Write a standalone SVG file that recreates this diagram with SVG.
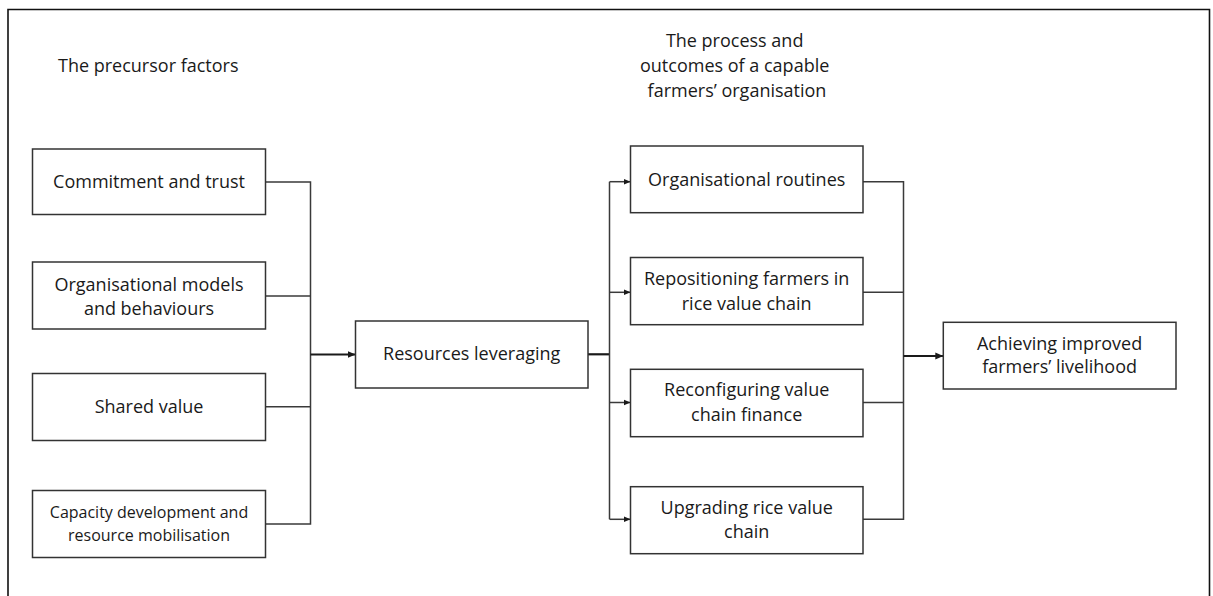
<svg xmlns="http://www.w3.org/2000/svg" width="1213" height="596" viewBox="0 0 1213 596">
  <style>
    .box { fill: #ffffff; stroke: #333333; stroke-width: 1.5; }
    .lbl { font-family: "Open Sans", "Liberation Sans", sans-serif; font-size: 18px; fill: #1a1a1a; text-anchor: middle; }
    .small { font-size: 16px; }
    .head { font-family: "Open Sans", "Liberation Sans", sans-serif; font-size: 18px; fill: #1a1a1a; }
    .wire { fill: none; stroke: #3a3a3a; stroke-width: 1.5; }
    .main { fill: none; stroke: #1a1a1a; stroke-width: 2.2; }
  </style>
  <defs>
    <marker id="tip" markerUnits="userSpaceOnUse" markerWidth="10" markerHeight="10" refX="8" refY="4" orient="auto">
      <path d="M0,0.5 L8,4 L0,7.5 Z" fill="#1a1a1a"/>
    </marker>
    <marker id="tipSmall" markerUnits="userSpaceOnUse" markerWidth="10" markerHeight="10" refX="7" refY="3.5" orient="auto">
      <path d="M0,0.5 L7,3.5 L0,6.5 Z" fill="#1a1a1a"/>
    </marker>
  </defs>

  <rect width="1213" height="596" fill="#ffffff"/>

  <!-- outer frame (open at the bottom) -->
  <path d="M8,596 V9.5 H1209.5 V596" fill="none" stroke="#111111" stroke-width="1.6"/>

  <!-- column headings -->
  <text class="head" x="58" y="72">The precursor factors</text>
  <text class="head" text-anchor="middle">
    <tspan x="737" y="47">The process and</tspan>
    <tspan x="737" y="72">outcomes of a capable</tspan>
    <tspan x="737" y="97">farmers’ organisation</tspan>
  </text>

  <!-- connectors -->
  <g id="connectors">
    <!-- precursor factors merge into resources leveraging -->
    <path class="wire" d="M265.5,182 H310.5 V524 H265.5"/>
    <path class="wire" d="M265.5,296 H310.5"/>
    <path class="wire" d="M265.5,406.7 H310.5"/>
    <path class="main" d="M310.5,354.5 H355.5" marker-end="url(#tip)"/>
    <!-- resources leveraging fans out to the four process boxes -->
    <path class="main" d="M588,354.3 H609.5"/>
    <path class="wire" d="M609.5,519.3 V181.7"/>
    <path class="wire" d="M609.5,181.7 H630.5" marker-end="url(#tipSmall)"/>
    <path class="wire" d="M609.5,292.3 H630.5" marker-end="url(#tipSmall)"/>
    <path class="wire" d="M609.5,402.5 H630.5" marker-end="url(#tipSmall)"/>
    <path class="wire" d="M609.5,519.3 H630.5" marker-end="url(#tipSmall)"/>
    <!-- process boxes merge into the outcome -->
    <path class="wire" d="M863,181.7 H903.5 V519.3 H863"/>
    <path class="wire" d="M863,292.3 H903.5"/>
    <path class="wire" d="M863,402.5 H903.5"/>
    <path class="main" d="M903.5,356 H943.3" marker-end="url(#tip)"/>
  </g>

  <!-- precursor factors -->
  <g id="commitment">
    <rect class="box" x="32.5" y="149" width="233" height="65.5"/>
    <text class="lbl" x="149" y="187.7">Commitment and trust</text>
  </g>
  <g id="org-models">
    <rect class="box" x="32.5" y="262" width="233" height="67"/>
    <text class="lbl"><tspan x="149" y="290.7">Organisational models</tspan><tspan x="149" y="315">and behaviours</tspan></text>
  </g>
  <g id="shared-value">
    <rect class="box" x="32.5" y="373.5" width="233" height="67"/>
    <text class="lbl" x="149" y="413.3">Shared value</text>
  </g>
  <g id="capacity">
    <rect class="box" x="32.5" y="490.5" width="233" height="67"/>
    <text class="lbl small"><tspan x="149" y="518.3">Capacity development and</tspan><tspan x="149" y="540.7">resource mobilisation</tspan></text>
  </g>

  <!-- central node -->
  <g id="resources">
    <rect class="box" x="355.5" y="321" width="232.5" height="67"/>
    <text class="lbl" x="471.7" y="360">Resources leveraging</text>
  </g>

  <!-- process and outcomes -->
  <g id="routines">
    <rect class="box" x="630.5" y="146" width="232.5" height="66.7"/>
    <text class="lbl" x="746.7" y="186">Organisational routines</text>
  </g>
  <g id="repositioning">
    <rect class="box" x="630.5" y="257.5" width="232.5" height="67.2"/>
    <text class="lbl"><tspan x="746.7" y="285">Repositioning farmers in</tspan><tspan x="746.7" y="310">rice value chain</tspan></text>
  </g>
  <g id="reconfiguring">
    <rect class="box" x="630.5" y="369.3" width="232.5" height="67.4"/>
    <text class="lbl"><tspan x="746.7" y="395.7">Reconfiguring value</tspan><tspan x="746.7" y="420.7">chain finance</tspan></text>
  </g>
  <g id="upgrading">
    <rect class="box" x="630.5" y="486.7" width="232.5" height="67"/>
    <text class="lbl"><tspan x="746.7" y="514.3">Upgrading rice value</tspan><tspan x="746.7" y="538.3">chain</tspan></text>
  </g>

  <!-- final outcome -->
  <g id="livelihood">
    <rect class="box" x="943.3" y="322.3" width="232.7" height="66.7"/>
    <text class="lbl"><tspan x="1059.6" y="350">Achieving improved</tspan><tspan x="1059.6" y="373.3">farmers’ livelihood</tspan></text>
  </g>
</svg>
